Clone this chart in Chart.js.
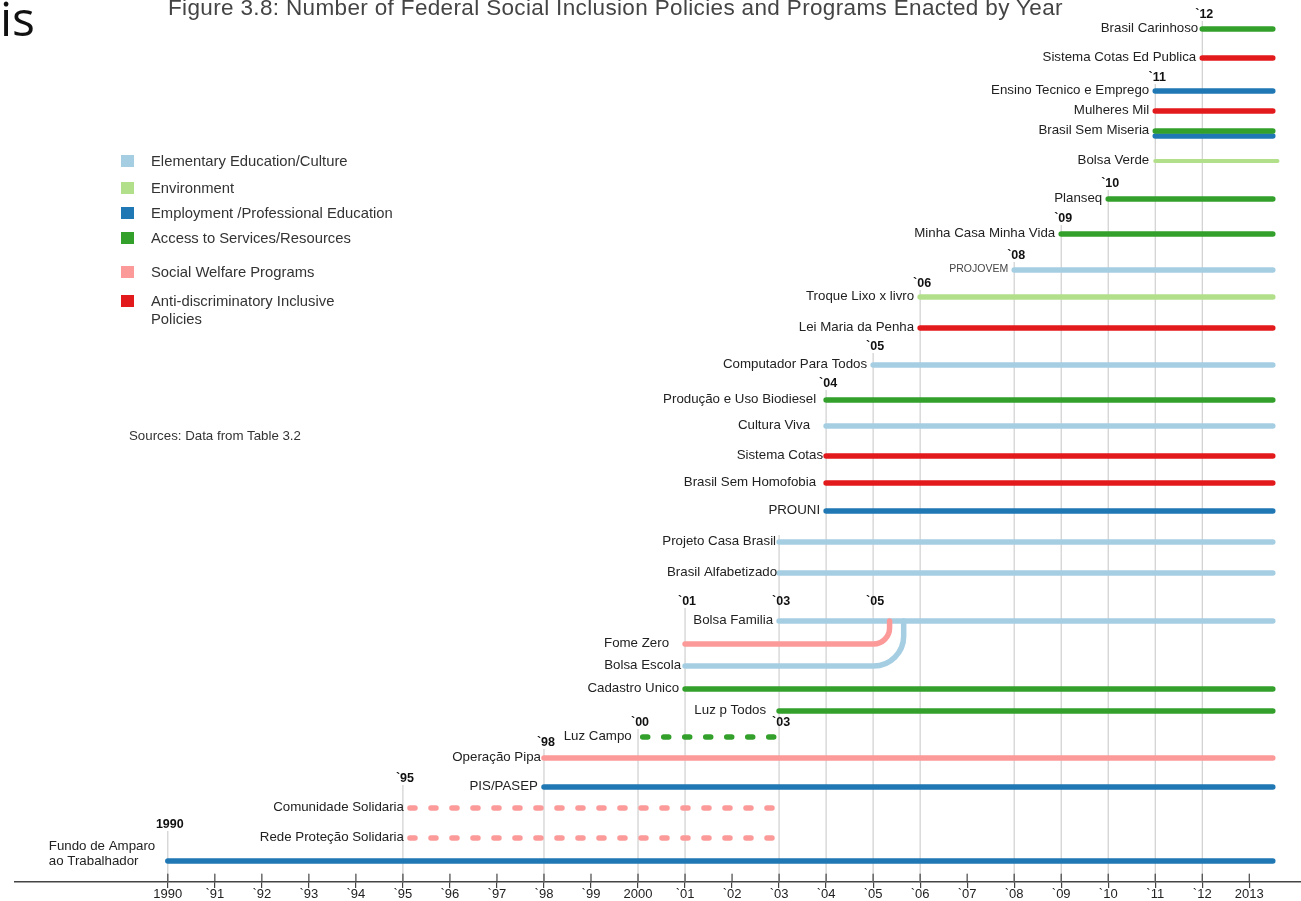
<!DOCTYPE html>
<html>
<head>
<meta charset="utf-8">
<script src="https://cdn.jsdelivr.net/npm/chart.js@4.4.1/dist/chart.umd.min.js"></script>
<style>
    html, body { margin: 0; padding: 0; background: #fff; }
    body { width: 1301px; height: 901px; position: relative; overflow: hidden; font-family: "Liberation Sans", Arial, sans-serif; }
    #wrap { position: absolute; left: 0; top: 0; width: 1301px; height: 901px; }
    .corner { position: absolute; left: 0px; top: -6px; font-family: "Open Sans", sans-serif; font-size: 48px; color: #111; line-height: 1; }
    .title { position: absolute; left: 168px; top: -3px; font-size: 22.5px; letter-spacing: 0.35px; color: #444; white-space: nowrap; line-height: 1; }
    .legend-item { position: absolute; left: 121px; font-size: 14.8px; color: #333; line-height: 18px; }
    .legend-item span.sw { position: absolute; left: 0; top: 2px; width: 13px; height: 12px; }
    .legend-item span.tx { position: absolute; left: 30px; top: -1px; white-space: nowrap; }
    .sources { position: absolute; left: 129px; top: 428px; font-size: 13.3px; color: #333; white-space: nowrap; }
</style>
</head>
<body>
<div id="wrap"><canvas id="timeline"></canvas></div>
<div class="corner">is</div>
<div class="title">Figure 3.8: Number of Federal Social Inclusion Policies and Programs Enacted by Year</div>
<div class="sources">Sources: Data from Table 3.2</div>
<script>
        // Categories
        const categoryNames = [
            'Elementary Education/Culture',
            'Environment',
            'Employment /Professional Education',
            'Access to Services/Resources',
            'Social Welfare Programs',
            'Anti-discriminatory Inclusive\nPolicies'
        ];
        const categoryColors = ['#a6cee3', '#b2df8a', '#1f78b4', '#33a02c', '#fb9a99', '#e31a1c'];

        // Programs (row = vertical position)
        const programs = [
            'Brasil Carinhoso', 'Sistema Cotas Ed Publica', 'Ensino Tecnico e Emprego', 'Mulheres Mil',
            'Brasil Sem Miseria', 'Brasil Sem Miseria', 'Bolsa Verde', 'Planseq', 'Minha Casa Minha Vida',
            'PROJOVEM', 'Troque Lixo x livro', 'Lei Maria da Penha', 'Computador Para Todos',
            'Produção e Uso Biodiesel', 'Cultura Viva', 'Sistema Cotas', 'Brasil Sem Homofobia', 'PROUNI',
            'Projeto Casa Brasil', 'Brasil Alfabetizado', 'Bolsa Familia', 'Fome Zero', 'Bolsa Escola',
            'Cadastro Unico', 'Luz p Todos', 'Luz Campo', 'Operação Pipa', 'PIS/PASEP',
            'Comunidade Solidaria', 'Rede Proteção Solidaria', 'Fundo de Amparo\nao Trabalhador'
        ];
        const categories = [3, 5, 2, 5, 3, 2, 1, 3, 3, 0, 1, 5, 0, 3, 0, 5, 5, 2, 0, 0, 0, 4, 0, 3, 3, 3, 4, 2, 4, 4, 2];
        const startYears = [2012, 2012, 2011, 2011, 2011, 2011, 2011, 2010, 2009, 2008, 2006, 2006, 2005,
            2004, 2004, 2004, 2004, 2004, 2003, 2003, 2003, 2001, 2001, 2001, 2003, 2000.1, 1998, 1998,
            1995.15, 1995.15, 1990];
        const endYears = [2013.5, 2013.5, 2013.5, 2013.5, 2013.5, 2013.5, 2013.6, 2013.5, 2013.5, 2013.5, 2013.5, 2013.5, 2013.5,
            2013.5, 2013.5, 2013.5, 2013.5, 2013.5, 2013.5, 2013.5, 2013.5, 2005.35, 2005.65, 2013.5, 2013.5, 2002.9, 2013.5, 2013.5,
            2002.85, 2002.85, 2013.5];
        const rowLevels = [85.3, 82.4, 79.1, 77.1, 75.1, 74.6, 72.1, 68.3, 64.8, 61.2, 58.5, 55.4, 51.7,
            48.2, 45.6, 42.6, 39.9, 37.1, 34.0, 30.9, 26.1, 23.8, 21.6, 19.3, 17.1, 14.5, 12.4, 9.5,
            7.4, 4.4, 2.1];
        // discontinued programs are dashed; merged ones bend into Bolsa Familia
        const discontinued = ['Luz Campo', 'Comunidade Solidaria', 'Rede Proteção Solidaria'];
        const mergedInto = { 'Fome Zero': 'Bolsa Familia', 'Bolsa Escola': 'Bolsa Familia' };

        // Year markers above the start points
        const yearMarkText = ['`12', '`11', '`10', '`09', '`08', '`06', '`05', '`04', '`01', '`03', '`05', '`03', '`00', '`98', '`95', '1990'];
        const yearMarkYears = [2012, 2011, 2010, 2009, 2008, 2006, 2005, 2004, 2001, 2003, 2005, 2003, 2000, 1998, 1995, 1990];
        const yearMarkLevels = [86.8, 80.5, 69.9, 66.4, 62.7, 59.9, 53.6, 49.9, 28.1, 28.1, 28.1, 16.0, 16.0, 14.0, 10.4, 5.8];

        // Axis
        const tickYears = [];
        for (let yr = 1990; yr <= 2013; yr++) tickYears.push(yr);
        const tickLabels = ['1990', '`91', '`92', '`93', '`94', '`95', '`96', '`97', '`98', '`99', '2000',
            '`01', '`02', '`03', '`04', '`05', '`06', '`07', '`08', '`09', '`10', '`11', '`12', '2013'];

        // label tweaks (style only)
        const labelGap = { 'Cultura Viva': 16, 'Fome Zero': 16, 'Luz p Todos': 13, 'Produção e Uso Biodiesel': 10,
            'Brasil Sem Homofobia': 10, 'Sistema Cotas': 3, 'Projeto Casa Brasil': 3, 'Brasil Alfabetizado': 2,
            'Bolsa Escola': 4, 'Luz Campo': 11, 'Brasil Carinhoso': 4, 'Operação Pipa': 3 };
        const legendTops = [153, 180, 205, 230, 264, 293];

        // legend (html)
        categoryNames.forEach((name, i) => {
            const d = document.createElement('div');
            d.className = 'legend-item';
            d.style.top = legendTops[i] + 'px';
            d.innerHTML = '<span class="sw" style="background:' + categoryColors[i] + '"></span><span class="tx">' +
                name.replace('\n', '<br>') + '</span>';
            document.body.appendChild(d);
        });

        // Build datasets
        const datasets = [];
        const seen = {};
        programs.forEach((name, i) => {
            const color = categoryColors[categories[i]];
            const showLabel = !seen[name];
            seen[name] = true;
            if (mergedInto[name]) {
                const target = rowLevels[programs.indexOf(mergedInto[name])];
                datasets.push({
                    label: name, showLabel, merged: true,
                    data: [{ x: startYears[i], y: rowLevels[i] }, { x: endYears[i], y: rowLevels[i] }, { x: endYears[i], y: target }],
                    showLine: false, pointRadius: 0, borderColor: color, order: 0
                });
                return;
            }
            datasets.push({
                label: name, showLabel,
                data: [{ x: startYears[i], y: rowLevels[i] }, { x: endYears[i], y: rowLevels[i] }],
                borderColor: color,
                borderWidth: name === 'Bolsa Verde' ? 4 : 5.5,
                borderCapStyle: 'round',
                borderDash: discontinued.includes(name) ? [5, 16] : [],
                pointRadius: 0,
                tension: 0,
                order: 0
            });
        });

        // grey year lines from the axis up to the highest start / marker of that year
        const lineYears = [...new Set(startYears.map(Math.round))];
        lineYears.forEach(yr => {
            let top = 0;
            startYears.forEach((s, i) => { if (Math.round(s) === yr) top = Math.max(top, rowLevels[i] + 0.7); });
            yearMarkYears.forEach((s, i) => { if (s === yr) top = Math.max(top, yearMarkLevels[i] - 0.7); });
            datasets.push({
                label: 'year ' + yr, marker: true,
                data: [{ x: yr, y: 0 }, { x: yr, y: top }],
                borderColor: '#c6c6c6', borderWidth: 1, pointRadius: 0, order: 5
            });
        });

        const timelinePlugin = {
            id: 'timeline',
            afterDatasetsDraw(chart) {
                const { ctx, scales: { x, y } } = chart;
                ctx.save();
                // bends into Bolsa Familia
                chart.data.datasets.forEach((ds, di) => {
                    if (!ds.merged) return;
                    const pts = chart.getDatasetMeta(di).data;
                    const r = ds.label === 'Fome Zero' ? 16 : 30;
                    ctx.beginPath();
                    ctx.moveTo(pts[0].x, pts[0].y);
                    ctx.arcTo(pts[1].x, pts[1].y, pts[2].x, pts[2].y, r);
                    ctx.lineTo(pts[2].x, pts[2].y);
                    ctx.strokeStyle = ds.borderColor;
                    ctx.lineWidth = 5.5;
                    ctx.lineCap = 'round';
                    ctx.stroke();
                });
                // program labels
                ctx.textBaseline = 'middle';
                chart.data.datasets.forEach((ds, di) => {
                    if (ds.marker || !ds.showLabel) return;
                    const p = chart.getDatasetMeta(di).data[0];
                    if (ds.label.includes('\n')) {
                        ctx.font = '13.3px "Liberation Sans", Arial, sans-serif';
                        ctx.fillStyle = '#222';
                        ctx.textAlign = 'left';
                        const lines = ds.label.split('\n');
                        ctx.fillText(lines[0], p.x - 119, p.y - 15);
                        ctx.fillText(lines[1], p.x - 119, p.y + 0);
                        return;
                    }
                    const small = ds.label === 'PROJOVEM';
                    ctx.font = (small ? '10.5px' : '13.3px') + ' "Liberation Sans", Arial, sans-serif';
                    ctx.fillStyle = small ? '#444' : '#222';
                    ctx.textAlign = 'right';
                    const gap = labelGap[ds.label] !== undefined ? labelGap[ds.label] : 6;
                    ctx.fillText(ds.label, p.x - gap, p.y - 1);
                });
                // year markers
                ctx.fillStyle = '#111';
                ctx.textAlign = 'center';
                ctx.font = 'bold 12.5px "Liberation Sans", Arial, sans-serif';
                yearMarkText.forEach((t, i) => {
                    ctx.fillText(t, x.getPixelForValue(yearMarkYears[i]) + 2, y.getPixelForValue(yearMarkLevels[i]) + 1);
                });
                // tick marks crossing above the axis
                ctx.strokeStyle = '#444';
                ctx.lineWidth = 1.2;
                const axisY = chart.chartArea.bottom;
                tickYears.forEach(yr => {
                    const px = x.getPixelForValue(yr);
                    ctx.beginPath();
                    ctx.moveTo(px, axisY - 8);
                    ctx.lineTo(px, axisY);
                    ctx.stroke();
                });
                ctx.restore();
            }
        };

        const ctx = document.getElementById('timeline').getContext('2d');
        new Chart(ctx, {
            type: 'line',
            data: { datasets },
            options: {
                responsive: true,
                maintainAspectRatio: false,
                animation: false,
                layout: { padding: { left: 15, right: 0, top: 0, bottom: 0 } },
                plugins: {
                    legend: { display: false },
                    tooltip: { enabled: false }
                },
                scales: {
                    x: {
                        type: 'linear',
                        min: 1986.75,
                        max: 2014.1,
                        afterBuildTicks: scale => { scale.ticks = tickYears.map(v => ({ value: v })); },
                        border: { display: true, color: '#444', width: 1.5 },
                        grid: { display: true, drawOnChartArea: false, drawTicks: true, tickLength: 6, color: '#444', lineWidth: 1.2 },
                        ticks: {
                            autoSkip: false,
                            maxRotation: 0,
                            padding: 0,
                            color: '#222',
                            font: { family: '"Liberation Sans", Arial, sans-serif', size: 13, lineHeight: 1 },
                            callback: value => tickLabels[tickYears.indexOf(value)]
                        }
                    },
                    y: {
                        type: 'linear',
                        display: false,
                        min: 0,
                        max: 88.2
                    }
                }
            },
            plugins: [timelinePlugin]
        });
</script>
</body>
</html>
